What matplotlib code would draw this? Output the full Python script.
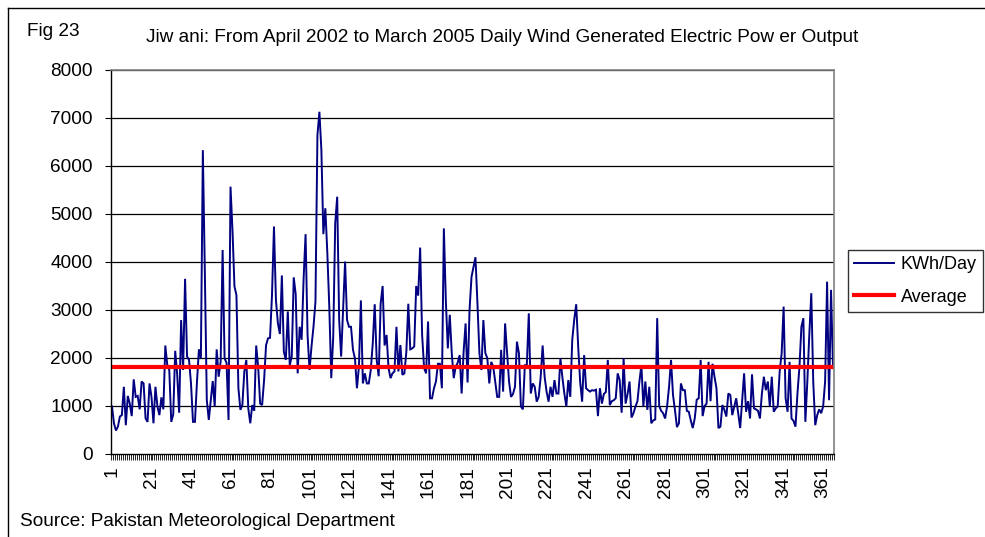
import numpy as np
import matplotlib
matplotlib.use("Agg")
import matplotlib.pyplot as plt
from matplotlib.lines import Line2D

plt.rcParams['font.family'] = ['Liberation Sans', 'DejaVu Sans']

# ---------------- data ----------------
kwh_day = [
    990, 640, 490, 570, 780, 810, 1400, 600, 1210, 1050,
    790, 1555, 1190, 1210, 930, 1510, 1470, 740, 670, 1470,
    1190, 640, 1400, 990, 810, 1180, 930, 2260, 1850, 1750,
    670, 820, 2150, 1660, 860, 2790, 1750, 3650, 2030, 1960,
    1470, 670, 670, 1490, 2180, 1990, 6330, 3800, 1120, 710,
    1120, 1520, 990, 2180, 1610, 1920, 4250, 1990, 1900, 710,
    5570, 4660, 3490, 3310, 1370, 920, 1020, 1720, 1960, 950,
    640, 1020, 900, 2260, 1820, 1050, 1020, 1540, 2270, 2410,
    2420, 3310, 4740, 3200, 2720, 2500, 3720, 2130, 1960, 2970,
    1850, 2030, 3680, 3330, 1680, 2650, 2380, 3650, 4580, 2480,
    1750, 2240, 2650, 3170, 6640, 7130, 6330, 4580, 5120, 4200,
    3070, 1580, 2440, 4800, 5360, 2800, 2030, 3000, 4010, 2790,
    2650, 2650, 2170, 1990, 1370, 1820, 3200, 1470, 1680, 1470,
    1470, 1750, 2300, 3120, 1960, 1620, 3130, 3500, 2260, 2480,
    1790, 1580, 1680, 1720, 2650, 1720, 2270, 1650, 1680, 2120,
    3130, 2180, 2200, 2240, 3500, 3300, 4300, 2480, 1790, 1680,
    2760, 1160, 1160, 1370, 1510, 1880, 1880, 1370, 4700, 3200,
    2200, 2900, 2100, 1580, 1820, 1900, 2060, 1260, 2130, 2720,
    1490, 3000, 3690, 3900, 4100, 3140, 2100, 1750, 2790, 2100,
    2000, 1470, 1920, 1820, 1500, 1190, 1190, 2170, 1300, 2720,
    2100, 1510, 1190, 1250, 1400, 2340, 2100, 990, 930, 1850,
    1850, 2930, 1260, 1470, 1400, 1090, 1190, 1600, 2260, 1610,
    1300, 1090, 1400, 1190, 1540, 1260, 1260, 1990, 1600, 1260,
    990, 1540, 1190, 2380, 2800, 3120, 2240, 1500, 1090, 2060,
    1370, 1330, 1300, 1330, 1320, 1340, 790, 1370, 1050, 1250,
    1290, 1960, 1020, 1100, 1120, 1160, 1680, 1540, 860, 1990,
    1050, 1250, 1510, 760, 850, 990, 1100, 1510, 1850, 990,
    1510, 920, 1400, 640, 700, 720, 2830, 1000, 900, 850,
    740, 990, 1400, 1960, 1230, 910, 560, 640, 1470, 1330,
    1330, 900, 880, 700, 540, 740, 1130, 1160, 1960, 790,
    1000, 1050, 1920, 1100, 1880, 1610, 1370, 540, 570, 1020,
    920, 780, 1260, 1230, 810, 990, 1160, 850, 540, 1100,
    1680, 880, 1100, 740, 1660, 950, 930, 900, 740, 1260,
    1610, 1330, 1510, 990, 1610, 880, 950, 990, 1720, 2100,
    3070, 1160, 880, 1920, 740, 690, 570, 1260, 1810, 2650,
    2830, 670, 1510, 2490, 3350, 1500, 600, 810, 930, 850,
    990, 1510, 3590, 1120, 3420, 1790,
]
average_value = 1810
day_numbers = list(range(1, len(kwh_day) + 1))
x_tick_labels = [str(d) for d in range(1, len(kwh_day) + 1, 20)]
y_ticks = [0, 1000, 2000, 3000, 4000, 5000, 6000, 7000, 8000]

title_text = "Jiw ani: From April 2002 to March 2005 Daily Wind Generated Electric Pow er Output"
fig_label = "Fig 23"
source_text = "Source: Pakistan Meteorological Department"
series_names = ["KWh/Day", "Average"]

# ---------------- figure ----------------
W, H = 985, 537
FS = 13.7
fig = plt.figure(figsize=(W / 100, H / 100), dpi=100)

def fx(px):
    return px / W

def fy(py):
    return 1 - py / H

# outer chart border (left and top edges visible; right/bottom fall outside)
fig.add_artist(Line2D([fx(8), fx(8)], [fy(8), 0], transform=fig.transFigure,
                      color='black', linewidth=1.0))
fig.add_artist(Line2D([fx(8), 1], [fy(8), fy(8)], transform=fig.transFigure,
                      color='black', linewidth=1.0))

ax_l, ax_r, ax_t, ax_b = 111, 834, 70, 454
ax = fig.add_axes([fx(ax_l), fy(ax_b), fx(ax_r) - fx(ax_l), fy(ax_t) - fy(ax_b)])

n = len(kwh_day)
ax.plot(day_numbers, kwh_day, color='#000080', linewidth=1.4, solid_joinstyle='miter')
ax.plot(day_numbers, [average_value] * n, color='#FF0000', linewidth=3.0)

ax.set_xlim(0.5, n + 0.5)
ax.set_ylim(0, 8000)
ax.set_yticks(y_ticks)
ax.set_yticklabels([str(v) for v in y_ticks], fontsize=FS)
for v in y_ticks[1:]:
    ax.axhline(v, color='black', linewidth=0.9, zorder=0)

major_pos = list(range(1, n + 1, 20))
ax.set_xticks(major_pos)
ax.set_xticklabels(x_tick_labels, rotation=90, fontsize=FS, va='top', ha='center')
ax.tick_params(axis='x', which='major', length=0, pad=9)
ax.set_xticks(np.arange(0.5, n + 1, 1.0), minor=True)
ax.tick_params(axis='x', which='minor', length=4, width=0.6, color='black', direction='out')
ax.tick_params(axis='y', which='major', length=4, width=0.8, direction='out', pad=9)

for s in ['top', 'right']:
    ax.spines[s].set_color('#808080')
    ax.spines[s].set_linewidth(1.2)
for s in ['left', 'bottom']:
    ax.spines[s].set_color('black')
    ax.spines[s].set_linewidth(1.0)

# texts
fig.text(fx(27), fy(31), fig_label, fontsize=FS, va='center', ha='left')
fig.text(fx(502), fy(37), title_text, fontsize=FS, va='center', ha='center')
fig.text(fx(20), fy(521), source_text, fontsize=FS, va='center', ha='left')

# legend
handles = [Line2D([0], [0], color='#000080', linewidth=1.4),
           Line2D([0], [0], color='#FF0000', linewidth=3.0)]
leg = fig.legend(handles, series_names, loc='upper right',
                 bbox_to_anchor=(fx(983), fy(250)), fontsize=13,
                 frameon=True, fancybox=False, edgecolor='black',
                 handlelength=2.2, handletextpad=0.38, borderpad=0.35,
                 labelspacing=0.85, borderaxespad=0)
leg.get_frame().set_linewidth(1.0)

fig.savefig("out.png", dpi=100)
